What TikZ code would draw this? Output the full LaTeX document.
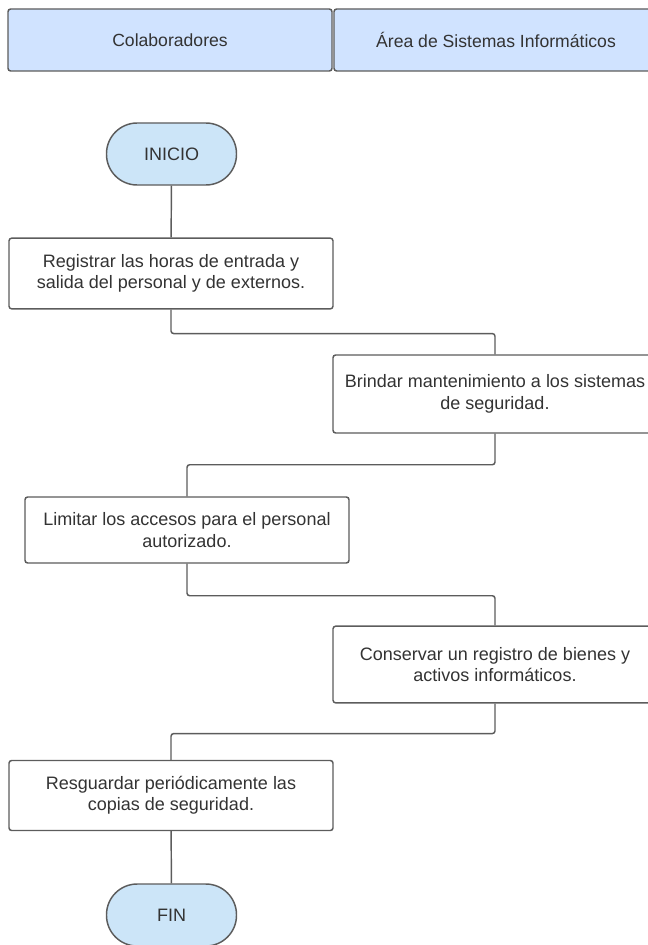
\documentclass[tikz,border=0pt]{standalone}
\usepackage{fontspec}
\setmainfont{Liberation Sans}
\usepackage{xcolor}
\usepackage{tikz}
\usetikzlibrary{positioning}
\definecolor{laneblue}{HTML}{D0E3FF}
\definecolor{termblue}{HTML}{CCE5F8}
\definecolor{edgegray}{HTML}{5C5C5C}
\definecolor{textgray}{HTML}{333333}

\begin{document}
\begin{tikzpicture}[
    x=0.75pt, y=-0.75pt,
    every node/.style={draw=edgegray, line width=1.1pt, text=textgray, inner sep=0pt, align=center},
    lane/.style={fill=laneblue, rounded corners=2pt, minimum width=243pt, minimum height=46.5pt, font=\fontsize{13.2}{16}\selectfont},
    term/.style={fill=termblue, rounded corners=23pt, minimum width=97.5pt, minimum height=46.5pt, font=\fontsize{13.5}{16}\selectfont},
    stepbox/.style={fill=white, rounded corners=2pt, minimum width=243pt, font=\fontsize{13.5}{16}\selectfont},
    flow/.style={draw=edgegray, line width=1.1pt, rounded corners=2pt}
]
\useasboundingbox (0,0) rectangle (647,945);

% carriles
\node[lane] (colab) at (170,40) {Colaboradores};
\node[lane] (area) at (496,40) {Área de Sistemas Informáticos};

% pasos
\node[term] (inicio) at (171.5,154) {INICIO};
\node[stepbox, minimum height=53pt] (reg) at (171,273.5) {Registrar las horas de entrada y\\salida del personal y de externos.};
\node[stepbox, minimum height=58.5pt] (brin) at (495,394) {Brindar mantenimiento a los sistemas\\de seguridad.};
\node[stepbox, minimum height=49.5pt] (lim) at (187,530) {Limitar los accesos para el personal\\autorizado.};
\node[stepbox, minimum height=57.5pt] (cons) at (495,664.5) {Conservar un registro de bienes y\\activos informáticos.};
\node[stepbox, minimum height=52.5pt] (resg) at (171,795.5) {Resguardar periódicamente las\\copias de seguridad.};
\node[term] (fin) at (171.5,915) {FIN};

% conectores
\draw[flow] (inicio) -- (reg);
\draw[flow] (reg.south) -- ++(0,24) -| (brin.north);
\draw[flow] (brin.south) -- ++(0,31) -| (lim.north);
\draw[flow] (lim.south) -- ++(0,32) -| (cons.north);
\draw[flow] (cons.south) -- ++(0,30) -| (resg.north);
\draw[flow] (resg) -- (fin);
\end{tikzpicture}
\end{document}
